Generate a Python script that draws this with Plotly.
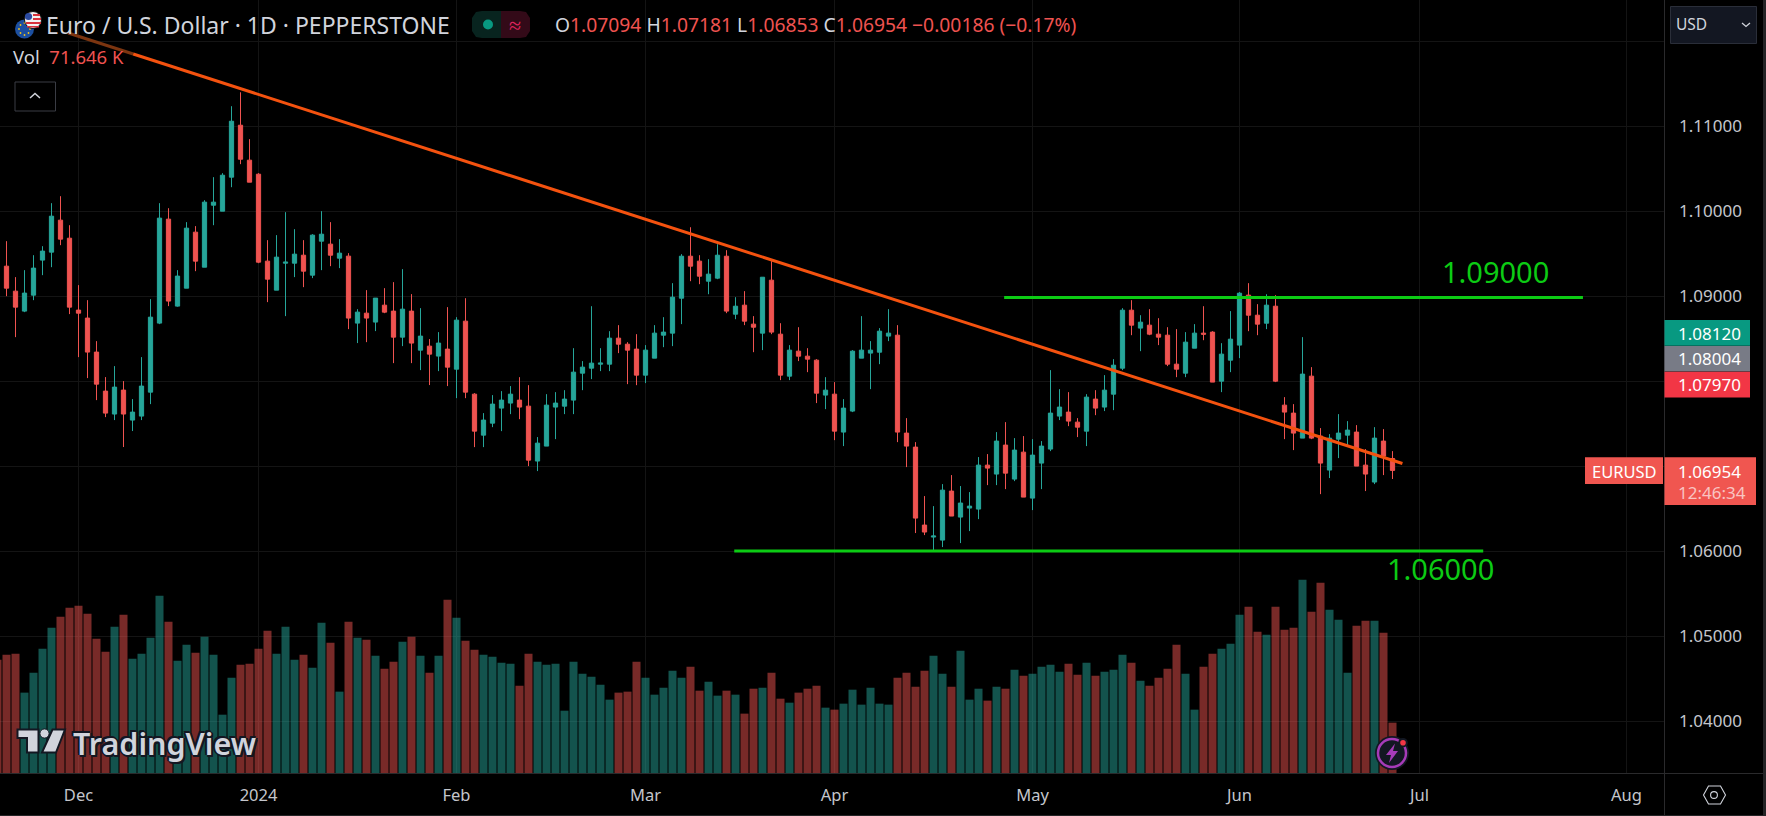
import plotly.graph_objects as go

# ---------- DATA ----------
opens = [1.09357,1.09063,1.08828,1.09016,1.09428,1.09522,1.09898,1.09686,1.08840,1.08746,1.08346,1.07887,1.07617,1.07899,1.07546,1.07593,1.07875,1.08687,1.09910,1.08887,
1.09098,1.09757,1.09345,1.10074,1.10004,1.10404,1.11015,1.10604,1.10439,1.09416,1.09075,1.09392,1.09392,1.09486,1.09251,1.09651,1.09616,1.09451,1.09475,1.08687,
1.08804,1.08699,1.08898,1.08828,1.08522,1.08828,1.08369,1.08416,1.08299,1.08381,1.08145,1.08710,1.07851,1.07369,1.07510,1.07687,1.07746,1.07781,1.07710,1.07064,
1.07240,1.07699,1.07710,1.07781,1.08098,1.08157,1.08204,1.08204,1.08510,1.08439,1.08381,1.08075,1.08275,1.08545,1.08569,1.08980,1.09474,1.09416,1.09180,1.09216,
1.09474,1.08792,1.08898,1.08675,1.08569,1.09192,1.08557,1.08063,1.08357,1.08298,1.08251,1.07840,1.07851,1.07405,1.07652,1.08275,1.08334,1.08345,1.08534,1.08545,
1.07393,1.07228,1.06311,1.06170,1.06134,1.06711,1.06405,1.06511,1.06499,1.07016,1.06911,1.07252,1.06852,1.07169,1.06628,1.07040,1.07205,1.07593,1.07640,1.07522,
1.07416,1.07793,1.07699,1.07851,1.08157,1.08839,1.08628,1.08663,1.08557,1.08545,1.08204,1.08098,1.08392,1.08569,1.08581,1.08004,1.08251,1.08428,1.09016,1.08780,
1.08686,1.08886,1.07722,1.07628,1.07334,1.08063,1.07358,1.06958,1.07322,1.07369,1.07405,1.07016,1.06817,1.07299,1.07094]
highs = [1.09651,1.09228,1.09310,1.09486,1.09592,1.10098,1.10180,1.09839,1.09134,1.08957,1.08475,1.08052,1.08181,1.08005,1.07793,1.08287,1.08969,1.10098,1.10039,1.09310,
1.09875,1.09828,1.10133,1.10404,1.10451,1.11239,1.11403,1.10851,1.10451,1.09663,1.09722,1.09992,1.09792,1.09663,1.09733,1.10004,1.09875,1.09675,1.09510,1.08851,
1.09075,1.08981,1.09098,1.09169,1.09322,1.09028,1.08863,1.08499,1.08581,1.08875,1.08757,1.08980,1.07863,1.07628,1.07840,1.07887,1.07946,1.08051,1.07957,1.07346,
1.07851,1.07875,1.07898,1.08392,1.08240,1.08886,1.08392,1.08592,1.08663,1.08463,1.08557,1.08428,1.08663,1.08757,1.09157,1.09498,1.09815,1.09486,1.09439,1.09615,
1.09545,1.08992,1.09063,1.08769,1.09227,1.09416,1.08686,1.08428,1.08639,1.08392,1.08263,1.08051,1.07993,1.07793,1.08369,1.08769,1.08475,1.08628,1.08851,1.08663,
1.07569,1.07287,1.06652,1.06534,1.06793,1.06899,1.06770,1.06699,1.07111,1.07146,1.07405,1.07522,1.07334,1.07358,1.07322,1.07299,1.08134,1.07910,1.07875,1.07569,
1.07851,1.07898,1.08075,1.08263,1.08863,1.08957,1.08780,1.08851,1.08745,1.08639,1.08616,1.08581,1.08675,1.08886,1.08592,1.08451,1.08828,1.09051,1.09157,1.08910,
1.09027,1.09016,1.07816,1.07734,1.08522,1.08169,1.07452,1.07381,1.07616,1.07534,1.07487,1.07205,1.07463,1.07440,1.07181]
lows = [1.09004,1.08522,1.08816,1.08957,1.09251,1.09345,1.09604,1.08793,1.08287,1.08040,1.07781,1.07581,1.07546,1.07229,1.07417,1.07546,1.07734,1.08675,1.08887,1.08880,
1.09098,1.09298,1.09345,1.09839,1.10004,1.10286,1.10557,1.10345,1.09392,1.08934,1.09075,1.08769,1.09228,1.09110,1.09216,1.09310,1.09357,1.09334,1.08616,1.08452,
1.08463,1.08593,1.08804,1.08216,1.08416,1.08216,1.08134,1.07958,1.08122,1.07946,1.07804,1.07804,1.07228,1.07228,1.07463,1.07416,1.07616,1.07557,1.07005,1.06946,
1.07240,1.07322,1.07616,1.07616,1.07898,1.08028,1.08122,1.08122,1.08334,1.07969,1.07957,1.07981,1.08275,1.08404,1.08416,1.08675,1.09180,1.09145,1.09027,1.09204,
1.08804,1.08733,1.08663,1.08345,1.08369,1.08557,1.08016,1.08016,1.08240,1.08110,1.07746,1.07675,1.07310,1.07240,1.07640,1.08275,1.07910,1.08204,1.08475,1.07287,
1.06993,1.06217,1.06193,1.06017,1.06052,1.06417,1.06099,1.06240,1.06381,1.06781,1.06781,1.06734,1.06828,1.06640,1.06487,1.06734,1.07181,1.07546,1.07475,1.07346,
1.07240,1.07604,1.07652,1.07663,1.08134,1.08545,1.08357,1.08545,1.08428,1.08181,1.08051,1.08051,1.08392,1.08486,1.07993,1.07875,1.08110,1.08275,1.08592,1.08545,
1.08616,1.07993,1.07322,1.07193,1.07334,1.07322,1.06675,1.06864,1.07099,1.07240,1.07005,1.06711,1.06793,1.06899,1.06853]
closes = [1.09098,1.08875,1.09040,1.09334,1.09534,1.09945,1.09675,1.08875,1.08804,1.08346,1.07969,1.07628,1.07934,1.07617,1.07640,1.07946,1.08757,1.09922,1.08946,1.09240,
1.09804,1.09416,1.10110,1.10110,1.10427,1.11062,1.10615,1.10345,1.09404,1.09204,1.09463,1.09404,1.09498,1.09298,1.09722,1.09733,1.09486,1.09510,1.08746,1.08816,
1.08746,1.08981,1.08816,1.08522,1.08851,1.08452,1.08534,1.08322,1.08452,1.08169,1.08722,1.07875,1.07416,1.07546,1.07734,1.07781,1.07851,1.07699,1.07075,1.07275,
1.07722,1.07746,1.07793,1.08110,1.08169,1.08216,1.08216,1.08510,1.08439,1.08369,1.08075,1.08369,1.08569,1.08581,1.08992,1.09474,1.09357,1.09239,1.09263,1.09486,
1.08828,1.08886,1.08710,1.08639,1.09227,1.08581,1.08075,1.08369,1.08298,1.08263,1.07863,1.07898,1.07416,1.07687,1.08357,1.08369,1.08369,1.08592,1.08569,1.07405,
1.07240,1.06393,1.06229,1.06182,1.06722,1.06417,1.06570,1.06534,1.07016,1.06981,1.07299,1.06922,1.07193,1.06640,1.07134,1.07240,1.07628,1.07699,1.07534,1.07463,
1.07816,1.07687,1.07898,1.08192,1.08839,1.08663,1.08698,1.08557,1.08522,1.08204,1.08145,1.08463,1.08569,1.08557,1.07993,1.08322,1.08498,1.09039,1.08780,1.08675,
1.08898,1.08004,1.07640,1.07393,1.08087,1.07334,1.07040,1.07334,1.07393,1.07428,1.07005,1.06911,1.07334,1.07122,1.06954]
# volume in thousands; first value belongs to the bar just clipped at the left edge
volume_k = [161.3,168.4,169.9,114.4,142.8,177.0,206.9,222.5,235.4,238.2,226.8,191.2,172.7,208.3,225.4,162.8,169.9,192.6,252.4,215.4,159.9,
182.7,171.3,194.1,168.4,83.0,135.7,154.2,155.6,177.0,202.6,169.9,208.3,161.3,168.4,149.9,214.0,185.5,115.8,215.4,192.6,
189.8,167.0,148.5,158.5,187.0,194.1,167.0,142.8,167.0,246.7,221.1,188.4,175.6,168.4,165.6,157.1,155.6,124.3,169.9,158.5,
154.2,155.6,88.7,158.5,141.4,137.1,125.7,104.4,114.4,115.8,158.5,135.7,111.5,121.5,145.7,135.7,151.4,117.2,130.0,110.1,
117.2,111.5,84.5,120.0,121.5,142.8,105.8,100.1,114.4,120.0,124.3,93.0,90.2,98.7,118.6,97.3,121.5,98.7,97.3,135.7,
142.8,122.9,145.7,167.0,141.4,122.9,174.1,104.4,120.0,103.0,122.9,120.0,147.1,138.6,141.4,151.4,154.2,144.2,155.6,140.0,
157.1,138.6,144.2,147.1,168.4,157.1,131.4,124.3,135.7,148.5,182.7,141.4,90.2,151.4,169.9,177.0,184.1,225.4,236.8,201.2,
196.9,236.8,204.0,206.9,275.2,229.7,270.9,232.5,218.3,142.8,209.7,216.8,216.8,199.8,71.646]
month_labels = ["Dec","2024","Feb","Mar","Apr","May","Jun","Jul","Aug"]
month_index = [8,28,50,71,92,114,137,157,180]
price_ticks = [1.04,1.05,1.06,1.07,1.08,1.09,1.10,1.11,1.12]
price_labels = ["1.04000","1.05000","1.06000","","","1.09000","1.10000","1.11000",""]
trend_x = [6.86,14.08,155.1]
trend_y = [1.1210,1.11853,1.07035]
support_x = [80.86,164.08]; support_y = [1.06006,1.06006]
resist_x = [110.85,175.16]; resist_y = [1.08988,1.08988]
tags = [("1.08120","#089981"),("1.08004","#787b86"),("1.07970","#f23645")]

# ---------- STYLE ----------
UP="#26a69a"; DOWN="#ef5350"; UPV="rgba(38,166,154,0.5)"; DOWNV="rgba(239,83,80,0.5)"
TXT="#d1d4dc"; AX="#c4c6cc"; GRID="#141414"; BORDER="#2a2a2c"; GREEN="#0ccb14"; FONT="Noto Sans"
W,H=1766,816; PW,PH=1665,773
X=lambda p:p/PW
Y=lambda p:1-p/PH
idx=list(range(len(opens)))

fig=go.Figure()
fig.add_trace(go.Bar(x=[-1]+idx,y=volume_k,yaxis="y2",
    marker=dict(color=[DOWNV]+[UPV if c>=o else DOWNV for o,c in zip(opens,closes)],line_width=0),hoverinfo="skip"))
fig.add_trace(go.Candlestick(x=idx,open=opens,high=highs,low=lows,close=closes,whiskerwidth=0,
    increasing=dict(line=dict(color=UP,width=1),fillcolor=UP),decreasing=dict(line=dict(color=DOWN,width=1),fillcolor=DOWN)))
fig.add_trace(go.Scatter(x=resist_x,y=resist_y,mode="lines",line=dict(color=GREEN,width=3)))
fig.add_trace(go.Scatter(x=support_x,y=support_y,mode="lines",line=dict(color=GREEN,width=3)))
fig.add_trace(go.Scatter(x=trend_x[:2],y=trend_y[:2],mode="lines",line=dict(color="#7c3510",width=3)))
fig.add_trace(go.Scatter(x=trend_x[1:],y=trend_y[1:],mode="lines",line=dict(color="#f4520f",width=3)))

shapes=[]; ann=[]
def rect(x0,y0,x1,y1,fill,line=None,lw=1):
    shapes.append(dict(type="rect",xref="paper",yref="paper",x0=X(x0),x1=X(x1),y0=Y(y1),y1=Y(y0),fillcolor=fill,line=dict(color=line or fill,width=lw if line else 0),layer="above"))
def circ(cx,cy,r,fill,line=None,lw=1):
    shapes.append(dict(type="circle",xref="paper",yref="paper",x0=X(cx-r),x1=X(cx+r),y0=Y(cy+r),y1=Y(cy-r),fillcolor=fill,line=dict(color=line or fill,width=lw if line else 0),layer="above"))
def poly(pts,fill="rgba(0,0,0,0)",line=None,lw=1,close=True):
    d="M"+" L".join(f"{X(a):.6f},{Y(b):.6f}" for a,b in pts)+(" Z" if close else "")
    shapes.append(dict(type="path",xref="paper",yref="paper",path=d,fillcolor=fill,line=dict(color=line or fill,width=lw if line else 0),layer="above"))
def txt(x,y,s,size=14,color=TXT,anchor="left",font=FONT,**kw):
    ann.append(dict(x=X(x),y=Y(y),xref="paper",yref="paper",text=s,showarrow=False,xanchor=anchor,yanchor="middle",
        font=dict(family=font,size=size,color=color,**kw),borderpad=0,borderwidth=0))

# pane borders
poly([(0,773.5),(1763,773.5)],line=BORDER,close=False)
poly([(1664.5,0),(1664.5,816)],line=BORDER,close=False)
rect(1763,0,1766,816,"#242426"); rect(0,815,1766,816,"#242426")

# flag icon
circ(24.5,29,9.5,"#1c4fa0")
for a,b in [(24.5,23),(24.5,35),(19,29),(30,29),(20.5,25),(28.5,25),(20.5,33),(28.5,33)]:
    circ(a,b,0.9,"#f5c518")
circ(33,20,8.5,"#f2f2f2","#101010",1)
rect(33,14,40,16,"#d8323c"); rect(33,18,41,20,"#d8323c"); rect(26,22,41,24,"#d8323c"); rect(27,26,39,27.5,"#d8323c")
circ(28.5,16.5,3.6,"#2b4aa0")

# header
txt(46,25,"Euro / U.S. Dollar · 1D · PEPPERSTONE",size=23)
poly([(482,11),(476,12),(472,18),(472,31),(476,37),(482,38),(501,38),(501,11)],fill="#08241f")
poly([(501,11),(520,11),(526,12),(530,18),(530,31),(526,37),(520,38),(501,38)],fill="#330a18")
circ(488,24.5,5,"#089981")
txt(515,24,"≈",size=22,color="#e0245e",anchor="center")
R="#ef5350"
ohlc="".join(f'<span style="color:{TXT}">{k}</span><span style="color:{R}">{v}</span> ' for k,v in [("O","1.07094"),("H","1.07181"),("L","1.06853"),("C","1.06954")])
txt(555,25,ohlc+f'<span style="color:{R}">−0.00186 (−0.17%)</span>',size=19.3)
txt(13,57,f'Vol <span style="color:{R}"> 71.646 K</span>',size=18.5)
shapes.append(dict(type="rect",xref="paper",yref="paper",x0=X(15),x1=X(55.5),y0=Y(111),y1=Y(82),fillcolor="#000",line=dict(color="#3a3c44",width=1),layer="above"))
poly([(30,98),(35,93.5),(40,98)],line=TXT,lw=1.5,close=False)

# USD box
rect(1670.5,6.5,1756.5,43.5,"#131722","#2a2e39")
txt(1675.5,24.5,"USD",size=15.5)
poly([(1742,23),(1746,26.5),(1750,23)],line=TXT,lw=1.3,close=False)

# price tags
for i,(t,c) in enumerate(tags):
    y0=320+i*25.9
    rect(1664.5,y0,1750,y0+25.7,c)
    txt(1678,y0+13,t,size=17,color="#ffffff")
rect(1585,457.3,1663,484,"#f05650"); txt(1592,471,"EURUSD",size=16.5,color="#ffffff")
rect(1664.5,457.3,1756,505,"#f05650")
txt(1678,471,"1.06954",size=17,color="#ffffff")
txt(1678,492,"12:46:34",size=17,color="#f9c4c2")

# level labels
txt(1495.3,271.5,"1.09000",size=29,color=GREEN,anchor="center")
txt(1440.5,568,"1.06000",size=29,color=GREEN,anchor="center")

# TradingView logo
SH="-2px 0 #131722, 2px 0 #131722, 0 2px #131722, 0 -2px #131722, 2px 2px #131722, -2px -2px #131722"
poly([(17.5,729.5),(38.5,729.5),(38.5,752.5),(27,752.5),(27,738),(17.5,738)],fill=TXT,line="#131722",lw=2)
circ(44.5,733.5,4.6,TXT,"#131722",1)
poly([(52.5,729.5),(65,729.5),(56,752.5),(42,752.5)],fill=TXT,line="#131722",lw=2)
txt(73,743,"TradingView",size=30.5,color=TXT,weight=600,shadow=SH)

# lightning badge
circ(1392,753,17,"#131722")
circ(1392,753,14,"#131722","#a63bb8",2.5)
poly([(1395,743.5),(1386,755),(1391,755),(1389,763),(1398,751),(1393,751)],fill="#a63bb8")
circ(1403,742.7,3.8,"#f23645","#131722",2)

# settings hexagon
poly([(1703.5,795),(1708.5,786),(1720.5,786),(1725.5,795),(1720.5,804),(1708.5,804)],line=TXT,lw=1.1)
circ(1714,795,3.4,"rgba(0,0,0,0)",TXT,1.1)

fig.update_layout(width=W,height=H,margin=dict(l=0,r=W-PW,t=0,b=H-PH),paper_bgcolor="#000",plot_bgcolor="#000",showlegend=False,
    bargap=0.11,boxgap=0.33,hovermode=False,dragmode=False,shapes=shapes,annotations=ann,
    xaxis=dict(range=[-6.5/9,(PW-6.5)/9],tickvals=month_index,ticktext=month_labels,showgrid=True,gridcolor=GRID,gridwidth=1,zeroline=False,
        ticks="",ticklabelstandoff=10,tickfont=dict(family=FONT,size=16.5,color=AX),rangeslider=dict(visible=False),showline=False,tickangle=0),
    yaxis=dict(range=[1.11-(PH-126.5)/8500,1.11+126.5/8500],side="right",tickvals=price_ticks,ticktext=price_labels,showgrid=True,gridcolor=GRID,gridwidth=1,
        zeroline=False,ticks="",ticklabelstandoff=13,tickfont=dict(family=FONT,size=17,color=AX),showline=False),
    yaxis2=dict(overlaying="y",range=[0,PH*1.4235],visible=False,side="left"))
fig.write_html("out.html",config=dict(displayModeBar=False),
    post_script="document.body.style.margin='0';document.documentElement.style.background='#000';document.documentElement.style.overflow='hidden';")
